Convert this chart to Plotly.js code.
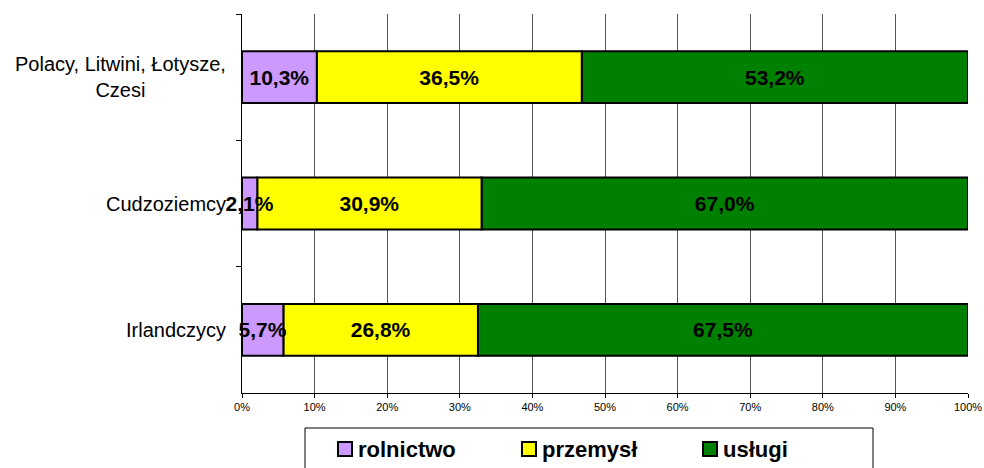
<!DOCTYPE html>
<html>
<head>
<meta charset="utf-8">
<script src="https://cdn.plot.ly/plotly-3.0.1.min.js"></script>
<style>html,body{margin:0;padding:0;background:#fff;}#chart{width:984px;height:468px;}</style>
</head>
<body>
<div id="chart"></div>
<script>
var categories = ["Polacy, Litwini, Łotysze,<br>Czesi", "Cudzoziemcy", "Irlandczycy"];
var seriesNames = ["rolnictwo", "przemysł", "usługi"];
var rolnictwo = [10.3, 2.1, 5.7];
var przemysl = [36.5, 30.9, 26.8];
var uslugi = [53.2, 67.0, 67.5];
var xTickVals = [0, 10, 20, 30, 40, 50, 60, 70, 80, 90, 100];
var xTickText = ["0%", "10%", "20%", "30%", "40%", "50%", "60%", "70%", "80%", "90%", "100%"];

var FONT = "Arial, 'Liberation Sans', sans-serif";
var colors = ["#CC99FF", "#FFFF00", "#008000"];
var values = [rolnictwo, przemysl, uslugi];

// stacking bases (cumulative sums of the series)
var bases = [
  rolnictwo.map(function () { return 0; }),
  rolnictwo.slice(),
  rolnictwo.map(function (v, i) { return v + przemysl[i]; })
];

var W = 984, H = 468, ML = 242, MR = 16, MT = 14, MB = 75;
var PW = W - ML - MR, PH = H - MT - MB;
function px2x(px) { return (px - ML) / PW; }
function py2y(py) { return (H - MB - py) / PH; }

var traces = values.map(function (v, i) {
  return {
    type: "bar",
    orientation: "h",
    name: seriesNames[i],
    y: categories,
    x: v,
    base: bases[i],
    marker: { color: colors[i], line: { color: "#000", width: 2 } },
    texttemplate: "<b>%{x:.1f}%</b>",
    textposition: "inside",
    insidetextanchor: "middle",
    textangle: 0,
    constraintext: "none",
    cliponaxis: false,
    textfont: { family: FONT, size: 21, color: "#000" },
    hoverinfo: "none",
    showlegend: false
  };
});
// draw the first series last so its labels stay on top
traces = [traces[2], traces[1], traces[0]];

var annotations = categories.map(function (c) {
  return {
    xref: "paper", yref: "y", x: 0, y: c, xanchor: "right", yanchor: "middle",
    xshift: -14, text: c, showarrow: false, align: "center",
    font: { family: FONT, size: 20, color: "#000" }
  };
});

// custom legend
var shapes = [{
  type: "rect", xref: "paper", yref: "paper",
  x0: px2x(305), x1: px2x(873), y0: py2y(428), y1: py2y(472),
  line: { color: "#000", width: 1 }, fillcolor: "#fff", layer: "above"
}];
var legendX = [338, 522, 703];
seriesNames.forEach(function (n, i) {
  shapes.push({
    type: "rect", xref: "paper", yref: "paper",
    x0: px2x(legendX[i]), x1: px2x(legendX[i] + 14), y0: py2y(442), y1: py2y(456),
    line: { color: "#000", width: 2 }, fillcolor: colors[i], layer: "above"
  });
  annotations.push({
    xref: "paper", yref: "paper", x: px2x(legendX[i] + 18), y: py2y(449),
    xanchor: "left", yanchor: "middle", showarrow: false,
    text: "<b>" + n + "</b>",
    font: { family: FONT, size: 22, color: "#000" }
  });
});

var layout = {
  width: W, height: H,
  margin: { l: ML, r: MR, t: MT, b: MB },
  paper_bgcolor: "#fff", plot_bgcolor: "#fff",
  separators: ", ",
  barmode: "overlay",
  bargap: 0.59,
  font: { family: FONT, color: "#000" },
  showlegend: false,
  xaxis: {
    range: [0, 100], tickvals: xTickVals, ticktext: xTickText,
    showgrid: true, gridcolor: "#555", gridwidth: 1,
    zeroline: false, showline: true, linecolor: "#000", linewidth: 1,
    ticks: "outside", ticklen: 4, tickcolor: "#000",
    tickfont: { family: FONT, size: 11, color: "#000" }
  },
  yaxis: {
    type: "category", categoryorder: "array", categoryarray: categories,
    autorange: "reversed", range: [2.5, -0.5],
    showticklabels: false, showgrid: false, zeroline: false,
    showline: true, linecolor: "#000", linewidth: 1,
    ticks: "outside", ticklen: 5, tickcolor: "#000", tickson: "boundaries"
  },
  shapes: shapes,
  annotations: annotations
};

Plotly.newPlot("chart", traces, layout, { staticPlot: true });
</script>
</body>
</html>
